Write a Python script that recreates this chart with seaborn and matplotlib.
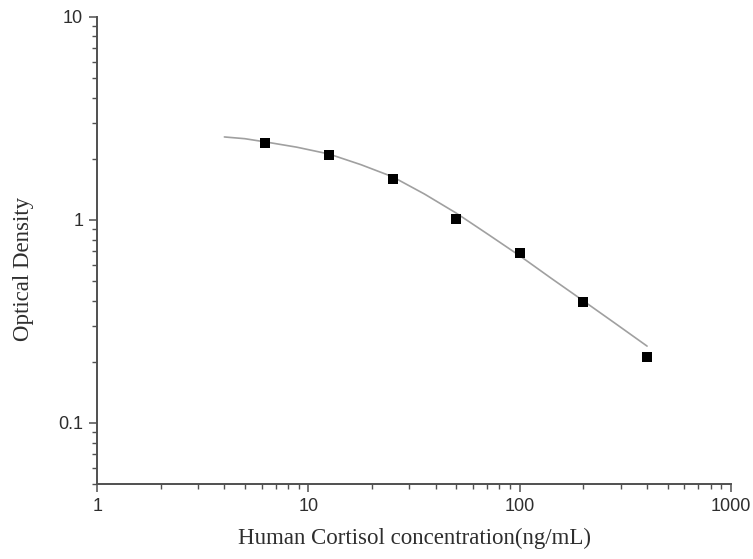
import matplotlib
matplotlib.use("Agg")
import matplotlib.pyplot as plt
import matplotlib.ticker as mticker
import seaborn as sns
import pandas as pd

# standard points (concentration, OD)
conc = [6.25, 12.5, 25, 50, 100, 200, 400]
od = [2.40, 2.09, 1.59, 1.01, 0.687, 0.395, 0.211]

# fitted curve
curve_conc = [4, 5, 6.25, 8.8, 12.5, 17.7, 25, 35.4, 50, 70.7, 100, 141, 200, 283, 400]
curve_od = [2.56, 2.51, 2.42, 2.28, 2.11, 1.87, 1.63, 1.34, 1.08, 0.849, 0.665, 0.515, 0.399, 0.309, 0.239]

x_ticks = [1, 10, 100, 1000]
y_ticks = [0.1, 1, 10]

sns.set_style("ticks")
plt.rcParams['font.family'] = ['Liberation Sans', 'DejaVu Sans']

pts = pd.DataFrame({'conc': conc, 'od': od})
fit = pd.DataFrame({'conc': curve_conc, 'od': curve_od})

fig = plt.figure(figsize=(7.53, 5.59), dpi=100)
ax = fig.add_axes([0.129, 0.134, 0.842, 0.836])

sns.lineplot(data=fit, x='conc', y='od', ax=ax, color='#a0a0a0', linewidth=1.2, sort=False)
sns.scatterplot(data=pts, x='conc', y='od', ax=ax, marker='s', color='black', s=45,
                edgecolor='black', linewidth=0, zorder=3)

ax.set_xscale('log')
ax.set_yscale('log')
ax.set_xlim(1, 1000)
ax.set_ylim(0.05, 10)

ax.xaxis.set_major_locator(mticker.FixedLocator(x_ticks))
ax.yaxis.set_major_locator(mticker.FixedLocator(y_ticks))
ax.xaxis.set_major_formatter(mticker.FuncFormatter(lambda v, p: f'{v:g}'))
ax.yaxis.set_major_formatter(mticker.FuncFormatter(lambda v, p: f'{v:g}'))
ax.xaxis.set_minor_locator(mticker.LogLocator(base=10, subs=range(2, 10)))
ax.yaxis.set_minor_locator(mticker.LogLocator(base=10, subs=range(2, 10)))
ax.xaxis.set_minor_formatter(mticker.NullFormatter())
ax.yaxis.set_minor_formatter(mticker.NullFormatter())

sns.despine(ax=ax)
for side in ['left', 'bottom']:
    ax.spines[side].set_color('#505050')
    ax.spines[side].set_linewidth(1.4)

ax.tick_params(which='major', direction='out', length=6, width=1.1, color='#505050',
               labelsize=13, labelcolor='#2e2e2e', pad=4)
ax.tick_params(which='minor', direction='out', length=3.5, width=1.0, color='#505050')

ax.set_xlabel('Human Cortisol concentration(ng/mL)', family='Liberation Serif',
              fontsize=16.5, color='#2e2e2e', labelpad=9)
ax.set_ylabel('Optical Density', family='Liberation Serif', fontsize=16.5, color='#2e2e2e')
ax.yaxis.set_label_coords(-0.1, 0.46)

fig.savefig('out.png', dpi=100)
